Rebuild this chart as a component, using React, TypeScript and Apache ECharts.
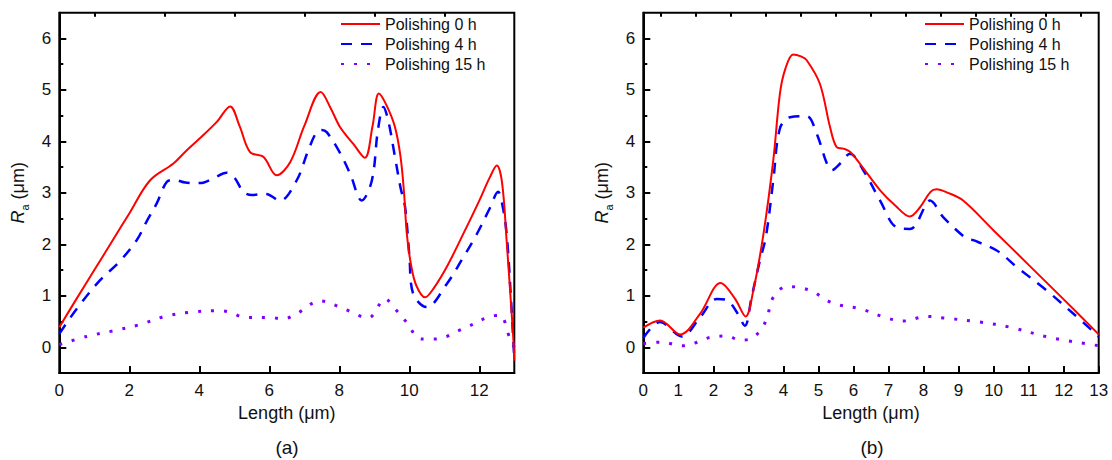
import React, { useEffect, useRef } from "react";
import * as echarts from "echarts";

const seriesNames = ["Polishing 0 h", "Polishing 4 h", "Polishing 15 h"];
const seriesColors = ["#ff0000", "#0000ff", "#8000ff"];

// Panel (a)
const aX0 = [0, 0.5, 1, 1.5, 2, 2.59, 3.26, 3.6, 4, 4.5, 4.88, 5.15, 5.45, 5.83, 6.21, 6.6, 7.0, 7.47, 7.75, 8.02, 8.4, 8.73, 8.95, 9.13, 9.35, 9.59, 9.75, 9.85, 9.93, 10.05, 10.2, 10.45, 10.7, 11.1, 11.59, 12.0, 12.3, 12.5, 12.65, 12.78, 12.9, 12.97, 13];
const aY0 = [0.39, 0.95, 1.5, 2.05, 2.6, 3.24, 3.57, 3.8, 4.05, 4.38, 4.68, 4.3, 3.79, 3.7, 3.34, 3.6, 4.3, 4.96, 4.65, 4.28, 3.95, 3.68, 4.3, 4.93, 4.7, 4.28, 3.7, 3.0, 2.2, 1.6, 1.2, 0.97, 1.15, 1.6, 2.27, 2.85, 3.3, 3.53, 3.2, 2.08, 0.9, 0.19, -0.26];
const aX4 = [0, 0.5, 1.16, 1.7, 2.21, 2.5, 2.78, 3.07, 3.3, 3.6, 4.02, 4.4, 4.78, 5.0, 5.26, 5.5, 5.9, 6.3, 6.78, 7.1, 7.35, 7.5, 7.64, 8.0, 8.31, 8.64, 8.93, 9.1, 9.26, 9.4, 9.59, 9.75, 9.88, 10.0, 10.11, 10.5, 11.07, 11.5, 11.93, 12.3, 12.54, 12.65, 12.78, 12.9, 13];
const aY4 = [0.26, 0.75, 1.3, 1.65, 2.08, 2.45, 2.79, 3.21, 3.25, 3.2, 3.19, 3.28, 3.39, 3.3, 3.02, 2.96, 2.98, 2.85, 3.24, 3.8, 4.18, 4.22, 4.18, 3.8, 3.37, 2.85, 3.24, 4.2, 4.67, 4.4, 3.7, 3.1, 2.72, 1.8, 1.04, 0.78, 1.23, 1.7, 2.2, 2.7, 3.02, 2.8, 2.21, 1.0, -0.22];
const aX15 = [0, 0.78, 1.54, 2.3, 3.02, 3.73, 4.54, 4.88, 5.31, 6.02, 6.4, 6.78, 7.45, 8.12, 8.83, 9.31, 9.59, 9.88, 10.35, 10.73, 11.54, 12.31, 12.59, 12.88, 13];
const aY15 = [0.05, 0.21, 0.32, 0.44, 0.6, 0.68, 0.71, 0.68, 0.58, 0.58, 0.55, 0.65, 0.9, 0.75, 0.57, 0.94, 0.75, 0.52, 0.16, 0.16, 0.36, 0.6, 0.62, 0.16, 0.0];

// Panel (b)
const bX0 = [0, 0.48, 1.05, 1.62, 2.21, 2.62, 2.92, 3.14, 3.43, 3.71, 3.9, 4.05, 4.28, 4.5, 4.66, 5.04, 5.33, 5.52, 5.71, 5.9, 6.18, 6.76, 7.2, 7.61, 7.9, 8.2, 8.37, 8.7, 9.13, 10, 11, 12, 13];
const bY0 = [0.38, 0.52, 0.25, 0.65, 1.25, 0.94, 0.6, 1.1, 2.2, 3.63, 4.93, 5.4, 5.69, 5.65, 5.58, 5.12, 4.28, 3.89, 3.86, 3.8, 3.57, 3.05, 2.75, 2.54, 2.72, 3.02, 3.07, 3.0, 2.85, 2.27, 1.6, 0.93, 0.25];
const bX4 = [0, 0.48, 1.1, 1.62, 2.1, 2.38, 2.67, 2.9, 3.09, 3.33, 3.5, 3.71, 3.9, 4.19, 4.66, 4.95, 5.24, 5.38, 5.62, 5.9, 6.28, 6.76, 7.23, 7.61, 8.09, 8.18, 8.56, 9.23, 9.42, 10.09, 10.66, 11.52, 12.28, 13];
const bY4 = [0.18, 0.49, 0.21, 0.58, 0.94, 0.92, 0.68, 0.42, 0.97, 1.69, 2.15, 3.24, 4.25, 4.47, 4.49, 4.15, 3.57, 3.44, 3.57, 3.76, 3.44, 2.85, 2.33, 2.3, 2.79, 2.85, 2.53, 2.11, 2.08, 1.88, 1.56, 1.1, 0.65, 0.21];
const bX15 = [0, 0.48, 1.14, 1.9, 2.38, 2.76, 3.05, 3.33, 3.52, 3.71, 4.09, 4.47, 4.85, 5.24, 5.6, 6.18, 6.95, 7.42, 8.09, 8.56, 9.61, 10.47, 11.61, 13];
const bY15 = [0.07, 0.1, 0.03, 0.19, 0.22, 0.14, 0.16, 0.32, 0.55, 0.97, 1.18, 1.16, 1.08, 0.91, 0.82, 0.75, 0.57, 0.51, 0.6, 0.57, 0.49, 0.39, 0.19, 0.03];

// Ticks
const xTicksA = [0, 2, 4, 6, 8, 10, 12];
const xMinorA = [1, 3, 5, 7, 9, 11];
const xTicksB = [0, 1, 2, 3, 4, 5, 6, 7, 8, 9, 10, 11, 12, 13];
const xMinorB = [0.5, 1.5, 2.5, 3.5, 4.5, 5.5, 6.5, 7.5, 8.5, 9.5, 10.5, 11.5, 12.5];
const yTicks = [0, 1, 2, 3, 4, 5, 6];
const yMinor = [0.5, 1.5, 2.5, 3.5, 4.5, 5.5];
const panelLabels = ["(a)", "(b)"];

const FONT = "'Liberation Sans', Arial, sans-serif";
const TXT = "#111";

const zip = (xs: number[], ys: number[]) => xs.map((x, i) => [x, ys[i]]);

export default function App() {
  const ref = useRef<HTMLDivElement>(null);
  useEffect(() => {
    if (!ref.current) return;
    const chart = echarts.init(ref.current, null, { renderer: "svg" });

    const grids = [
      { left: 59.3, top: 12.7, width: 455, height: 360.3 },
      { left: 643.3, top: 12.7, width: 455.4, height: 360.3 },
    ];

    const mainX = (gi: number, ticks: number[]) => ({
      type: "value",
      gridIndex: gi,
      min: 0,
      max: 13,
      name: "Length (μm)",
      nameLocation: "middle",
      nameGap: 29,
      nameTextStyle: { fontSize: 18, color: TXT, fontFamily: FONT },
      axisLine: { show: true, onZero: false, lineStyle: { color: "#000", width: 2 } },
      axisTick: { show: true, inside: true, length: 7, customValues: ticks, lineStyle: { color: "#000", width: 2 } },
      axisLabel: { show: true, margin: 9, fontSize: 17, color: TXT, fontFamily: FONT, customValues: ticks },
      splitLine: { show: false },
    });
    const minorX = (gi: number, ticks: number[]) => ({
      type: "value",
      gridIndex: gi,
      min: 0,
      max: 13,
      axisLine: { show: false, onZero: false },
      axisTick: { show: true, inside: true, length: 4, customValues: ticks, lineStyle: { color: "#000", width: 2 } },
      axisLabel: { show: false },
      splitLine: { show: false },
    });
    const mainY = (gi: number) => ({
      type: "value",
      gridIndex: gi,
      min: -0.5,
      max: 6.5,
      name: "{i|R}{s|a} (μm)",
      nameLocation: "middle",
      nameGap: 29,
      nameTextStyle: {
        fontSize: 18,
        color: TXT,
        fontFamily: FONT,
        lineHeight: 19,
        rich: {
          i: { fontSize: 18, fontStyle: "italic", color: TXT, fontFamily: FONT, lineHeight: 25 },
          s: { fontSize: 11, color: TXT, fontFamily: FONT, verticalAlign: "bottom", lineHeight: 11 },
        },
      },
      axisLine: { show: true, onZero: false, lineStyle: { color: "#000", width: 2 } },
      axisTick: { show: true, inside: true, length: 7, customValues: yTicks, lineStyle: { color: "#000", width: 2 } },
      axisLabel: { show: true, margin: 8, fontSize: 17, color: TXT, fontFamily: FONT, customValues: yTicks },
      splitLine: { show: false },
    });
    const minorY = (gi: number) => ({
      type: "value",
      gridIndex: gi,
      min: -0.5,
      max: 6.5,
      position: "left",
      axisLine: { show: false, onZero: false },
      axisTick: { show: true, inside: true, length: 4, customValues: yMinor, lineStyle: { color: "#000", width: 2 } },
      axisLabel: { show: false },
      splitLine: { show: false },
    });

    const lineStyles = [
      { color: seriesColors[0], width: 2, type: "solid" },
      { color: seriesColors[1], width: 2.5, type: [11, 9] },
      { color: seriesColors[2], width: 3, type: [3, 10] },
    ];

    const panelData = [
      [zip(aX0, aY0), zip(aX4, aY4), zip(aX15, aY15)],
      [zip(bX0, bY0), zip(bX4, bY4), zip(bX15, bY15)],
    ];

    const series: any[] = [];
    panelData.forEach((pd, gi) => {
      pd.forEach((d, si) => {
        series.push({
          type: "line",
          name: seriesNames[si],
          xAxisIndex: gi * 2,
          yAxisIndex: gi * 2,
          data: d,
          smooth: 0.35,
          symbol: "none",
          showSymbol: false,
          lineStyle: lineStyles[si],
          itemStyle: { color: seriesColors[si] },
          z: 3 - si,
        });
      });
    });

    const legendFor = (left: number) => ({
      orient: "vertical",
      left,
      top: 15,
      padding: 0,
      itemWidth: 39,
      itemHeight: 12,
      itemGap: 2,
      selectedMode: false,
      itemStyle: { opacity: 0 },
      textStyle: { fontSize: 16, color: TXT, fontFamily: FONT, lineHeight: 18 },
      data: seriesNames.slice(),
    });

    chart.setOption({
      animation: false,
      backgroundColor: "#fff",
      grid: grids.map((g) => ({ ...g, show: true, borderColor: "#000", borderWidth: 2, backgroundColor: "transparent", containLabel: false })),
      xAxis: [mainX(0, xTicksA), minorX(0, xMinorA), mainX(1, xTicksB), minorX(1, xMinorB)],
      yAxis: [mainY(0), minorY(0), mainY(1), minorY(1)],
      legend: [legendFor(340), legendFor(924)],
      series,
      graphic: [
        { type: "text", x: 287, y: 447, style: { text: panelLabels[0], fontSize: 19, fill: TXT, fontFamily: FONT, align: "center", verticalAlign: "middle" } },
        { type: "text", x: 872, y: 447, style: { text: panelLabels[1], fontSize: 19, fill: TXT, fontFamily: FONT, align: "center", verticalAlign: "middle" } },
      ],
    });
    return () => chart.dispose();
  }, []);
  return <div ref={ref} style={{ position: "absolute", left: 0, top: 0, width: 1112, height: 460 }} />;
}
